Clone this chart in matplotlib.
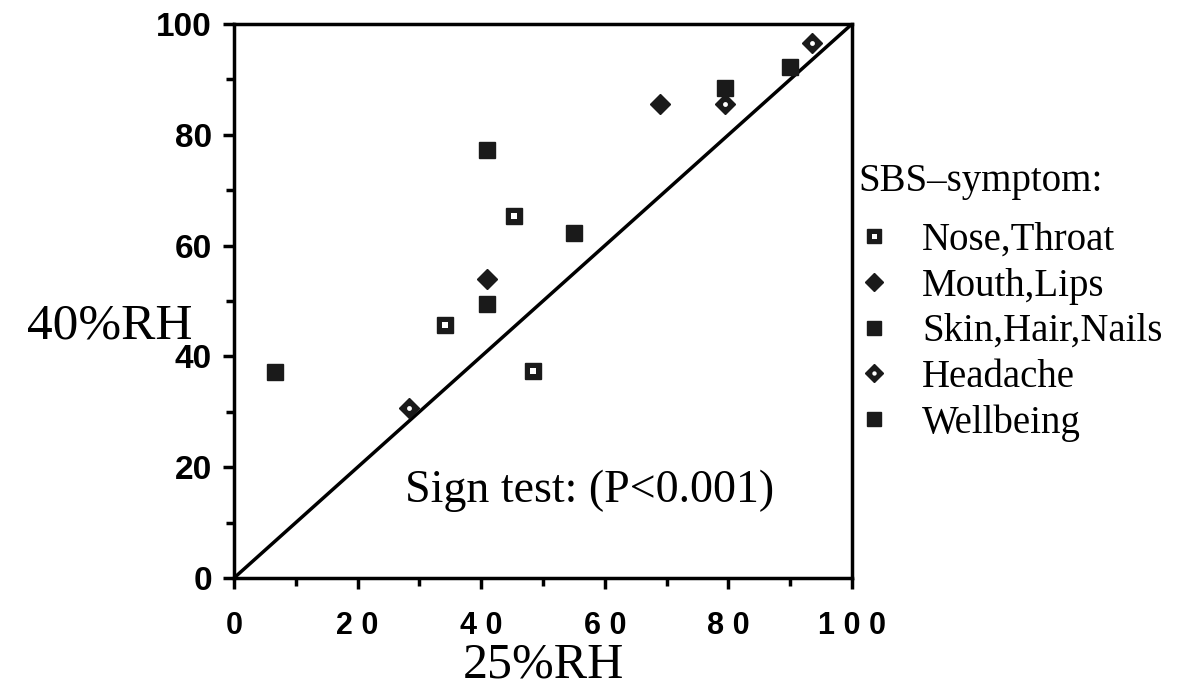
import matplotlib
matplotlib.use("Agg")
import matplotlib.pyplot as plt
from matplotlib.ticker import MultipleLocator, FixedLocator
from matplotlib.legend_handler import HandlerTuple

# Data (25%RH vs 40%RH, % reporting symptom)
nose_x = [45.3, 34.1, 48.4]
nose_y = [65.3, 45.7, 37.4]
mouth_x = [68.9, 40.9]
mouth_y = [85.6, 54.0]
skin_x = [40.9, 6.6, 90.0]
skin_y = [77.3, 37.2, 92.2]
head_x = [93.5, 79.5, 28.3]
head_y = [96.6, 85.6, 30.7]
well_x = [55.0, 40.9, 79.5]
well_y = [62.3, 49.5, 88.4]

ticks = [0, 20, 40, 60, 80, 100]
xtick_labels = ["0", "2 0", "4 0", "6 0", "8 0", "1 0 0"]
ytick_labels = ["0", "20", "40", "60", "80", "100"]

fig = plt.figure(figsize=(12.02, 6.88), dpi=100)
ax = fig.add_axes([234/1202, 1-578/688, (852-234)/1202, (578-24)/688])

ax.plot([0, 100], [0, 100], color="black", lw=2.5, zorder=2)

ms_sq = 11
ms_d = 10
ink = "#1a1a1a"
h1a, = ax.plot(nose_x, nose_y, ls="none", marker="s", ms=ms_sq, mfc=ink, mec=ink, zorder=3)
h1b, = ax.plot(nose_x, nose_y, ls="none", marker="s", ms=4, mfc="white", mec="white", mew=0, zorder=4)
h2, = ax.plot(mouth_x, mouth_y, ls="none", marker="D", ms=ms_d, mfc=ink, mec=ink, zorder=3)
h3, = ax.plot(skin_x, skin_y, ls="none", marker="s", ms=ms_sq, mfc=ink, mec=ink, zorder=3)
h4a, = ax.plot(head_x, head_y, ls="none", marker="D", ms=ms_d, mfc=ink, mec=ink, zorder=3)
h4b, = ax.plot(head_x, head_y, ls="none", marker="o", ms=3.5, mfc="white", mec="white", mew=0, zorder=4)
h5, = ax.plot(well_x, well_y, ls="none", marker="s", ms=ms_sq, mfc=ink, mec=ink, zorder=3)

ax.set_xlim(0, 100)
ax.set_ylim(0, 100)
for s in ax.spines.values():
    s.set_linewidth(2.5)
ax.xaxis.set_major_locator(FixedLocator(ticks))
ax.yaxis.set_major_locator(FixedLocator(ticks))
ax.xaxis.set_minor_locator(MultipleLocator(10))
ax.yaxis.set_minor_locator(MultipleLocator(10))
ax.set_xticklabels(xtick_labels)
ax.set_yticklabels(ytick_labels)
ax.tick_params(which="both", direction="out", width=2.5, top=False, right=False)
ax.tick_params(which="major", length=8)
ax.tick_params(axis="x", which="major", pad=16)
ax.tick_params(axis="y", which="major", pad=8)
ax.tick_params(which="minor", length=6)
for lab in ax.get_xticklabels():
    lab.set_fontfamily("Liberation Sans")
    lab.set_fontweight("bold")
    lab.set_fontsize(22)
for lab in ax.get_yticklabels():
    lab.set_fontfamily("Liberation Sans")
    lab.set_fontweight("bold")
    lab.set_fontsize(24)

serif = "Liberation Serif"
ax.text((110-234)/618, 0.455, "40%RH", transform=ax.transAxes, fontfamily=serif,
        fontsize=37, ha="center", va="center")
ax.text(0.50, (578-678)/554, "25%RH", transform=ax.transAxes, fontfamily=serif,
        fontsize=36, ha="center", va="baseline")

ax.text(0.575, 0.158, "Sign test: (P<0.001)", transform=ax.transAxes, fontfamily=serif,
        fontsize=33, ha="center", va="center")

fig.text(858/1202, 1-182/688, "SBS\u2013symptom:", fontfamily=serif, fontsize=28,
         ha="left", va="center")
leg = fig.legend(handles=[(h1a, h1b), h2, h3, (h4a, h4b), h5],
                 labels=["Nose,Throat", "Mouth,Lips", "Skin,Hair,Nails", "Headache", "Wellbeing"],
                 handler_map={tuple: HandlerTuple(ndivide=1, pad=0)},
                 loc="upper left",
                 bbox_to_anchor=(862/1202, 1-222/688), frameon=False,
                 prop={"family": serif, "size": 28}, handlelength=0.6,
                 handletextpad=0.95, labelspacing=0.22, borderpad=0, borderaxespad=0,
                 markerscale=0.9)

fig.savefig("out.png", dpi=100)
